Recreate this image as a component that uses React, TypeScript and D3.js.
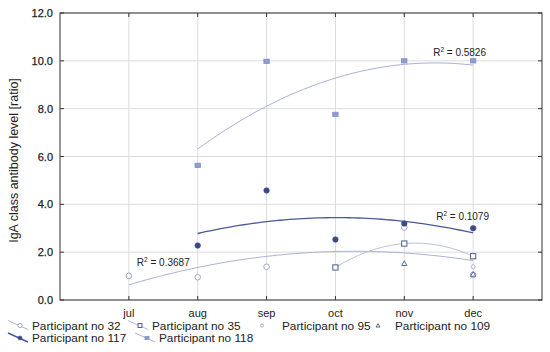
import React from "react";
import * as d3 from "d3";

const months = ["jul", "aug", "sep", "oct", "nov", "dec"];
const yTicks = [0, 2, 4, 6, 8, 10, 12];

const p32 = [1.01, 0.95, 1.39, null, 3.03, 1.05];
const p35 = [null, null, null, 1.36, 2.36, 1.83];
const p95 = [null, null, null, null, null, 1.39];
const p109 = [null, null, null, null, 1.53, 1.08];
const p117 = [null, 2.28, 4.58, 2.53, 3.2, 3.0];
const p118 = [null, 5.63, 9.98, 7.76, 10.0, 10.0];

const r2Labels = [
  { series: "32", text: "0.3687", at: 1 },
  { series: "117", text: "0.1079", at: 6 },
  { series: "118", text: "0.5826", at: 6 },
];

const W = 550, H = 352;
const L = 60, R = 542, T = 13, B = 300;
const FONT = "'Liberation Sans', Arial, sans-serif";

type Series = { name: string; label: string; values: (number | null)[]; marker: string; color: string; fill: string; trend: string | null; r: number };

const series: Series[] = [
  { name: "32", label: "Participant no 32", values: p32, marker: "circle", color: "#9ea8c8", fill: "#fff", trend: "#a9b3d3", r: 2.8 },
  { name: "35", label: "Participant no  35", values: p35, marker: "square", color: "#4d5b8c", fill: "#fff", trend: "#b7c0dd", r: 2.6 },
  { name: "95", label: "Participant no 95", values: p95, marker: "smallcircle", color: "#aab3cf", fill: "#fff", trend: null, r: 2 },
  { name: "109", label: "Participant no 109", values: p109, marker: "triangle", color: "#5a699c", fill: "#fff", trend: null, r: 2.6 },
  { name: "117", label: "Participant no 117", values: p117, marker: "dot", color: "#3a4a8a", fill: "#3a4a8a", trend: "#4a5a97", r: 2.8 },
  { name: "118", label: "Participant no 118", values: p118, marker: "fsquare", color: "#8391c8", fill: "#8f9cd0", trend: "#a7b1d9", r: 2.7 },
];

function quadFit(pts: [number, number][]) {
  let s = [0, 0, 0, 0, 0], sy = [0, 0, 0];
  for (const [x, y] of pts) {
    for (let k = 0; k < 5; k++) s[k] += Math.pow(x, k);
    for (let k = 0; k < 3; k++) sy[k] += Math.pow(x, k) * y;
  }
  const M = [
    [s[0], s[1], s[2], sy[0]],
    [s[1], s[2], s[3], sy[1]],
    [s[2], s[3], s[4], sy[2]],
  ];
  for (let i = 0; i < 3; i++) {
    let p = i;
    for (let j = i + 1; j < 3; j++) if (Math.abs(M[j][i]) > Math.abs(M[p][i])) p = j;
    [M[i], M[p]] = [M[p], M[i]];
    for (let j = 0; j < 3; j++) {
      if (j === i) continue;
      const f = M[j][i] / M[i][i];
      for (let k = i; k < 4; k++) M[j][k] -= f * M[i][k];
    }
  }
  const c = [M[0][3] / M[0][0], M[1][3] / M[1][1], M[2][3] / M[2][2]];
  return (x: number) => c[0] + c[1] * x + c[2] * x * x;
}

const x = d3.scaleLinear().domain([0, 7]).range([L, R]);
const y = d3.scaleLinear().domain([0, 12]).range([B, T]);

function Marker({ s, cx, cy }: { s: Series; cx: number; cy: number }) {
  const r = s.r;
  switch (s.marker) {
    case "circle":
    case "smallcircle":
      return <circle cx={cx} cy={cy} r={r} fill={s.fill} stroke={s.color} strokeWidth={1} />;
    case "dot":
      return <circle cx={cx} cy={cy} r={r} fill={s.fill} stroke={s.color} strokeWidth={0.5} />;
    case "square":
      return <rect x={cx - r} y={cy - r} width={2 * r} height={2 * r} fill={s.fill} stroke={s.color} strokeWidth={1} />;
    case "fsquare":
      return <rect x={cx - r} y={cy - r * 0.8} width={2 * r} height={1.6 * r} fill={s.fill} stroke={s.color} strokeWidth={0.8} />;
    case "triangle":
      return <path d={`M${cx},${cy - r}L${cx + r},${cy + r * 0.8}L${cx - r},${cy + r * 0.8}Z`} fill={s.fill} stroke={s.color} strokeWidth={1} />;
  }
  return null;
}

export default function App() {
  const line = d3.line<[number, number]>().x((d) => x(d[0])).y((d) => y(d[1]));

  const trends = series
    .filter((s) => s.trend)
    .map((s) => {
      const pts = s.values
        .map((v, i) => [i + 1, v] as [number, number | null])
        .filter((d) => d[1] !== null) as [number, number][];
      const f = quadFit(pts);
      const x0 = pts[0][0], x1 = pts[pts.length - 1][0];
      const samples: [number, number][] = d3.range(0, 61).map((k) => {
        const xx = x0 + ((x1 - x0) * k) / 60;
        return [xx, f(xx)];
      });
      return { s, d: line(samples) as string, f };
    });

  const legendRows = [
    [
      { s: series[0], sx: 8, tx: 32 },
      { s: series[1], sx: 128, tx: 152 },
      { s: series[2], sx: 262, tx: 282 },
      { s: series[3], sx: 378, tx: 395 },
    ],
    [
      { s: series[4], sx: 8, tx: 32 },
      { s: series[5], sx: 135, tx: 159 },
    ],
  ];
  const rowY = [325.5, 338];

  return (
    <svg width={W} height={H} style={{ position: "absolute", left: 0, top: 0, background: "#fff" }} fontFamily={FONT}>
      <rect width={W} height={H} fill="#fff" />
      {months.map((m, i) => (
        <line key={"vg" + m} x1={x(i + 1)} x2={x(i + 1)} y1={T} y2={B} stroke="#dcdcdc" strokeWidth={1} />
      ))}
      {yTicks.map((t) => (
        <line key={"hg" + t} x1={L} x2={R} y1={y(t)} y2={y(t)} stroke="#dcdcdc" strokeWidth={1} />
      ))}
      <rect x={L} y={T} width={R - L} height={B - T} fill="none" stroke="#333" strokeWidth={1} />
      {months.map((m, i) => (
        <g key={"tk" + m}>
          <line x1={x(i + 1)} x2={x(i + 1)} y1={T} y2={T + 4} stroke="#333" />
          <line x1={x(i + 1)} x2={x(i + 1)} y1={B} y2={B - 4} stroke="#333" />
          <text x={x(i + 1)} y={317} textAnchor="middle" fontSize={11} fill="#222">{m}</text>
        </g>
      ))}
      {yTicks.map((t) => (
        <g key={"yt" + t}>
          <line x1={R} x2={R - 4} y1={y(t)} y2={y(t)} stroke="#333" />
          <line x1={L} x2={L + 4} y1={y(t)} y2={y(t)} stroke="#333" />
          <text x={53} y={y(t) + 4} textAnchor="end" fontSize={11} fill="#222" stroke="#222" strokeWidth={0.25}>{t.toFixed(1)}</text>
        </g>
      ))}
      <text transform={`translate(18,${(T + B) / 2 + 4}) rotate(-90)`} textAnchor="middle" fontSize={12.5} fill="#222">
        IgA class antibody level [ratio]
      </text>
      {trends.map((t) => (
        <path key={"tr" + t.s.name} d={t.d} fill="none" stroke={t.s.trend as string} strokeWidth={t.s.name === "117" ? 1.3 : 1} />
      ))}
      {series.map((s) =>
        s.values.map((v, i) => (v === null ? null : <Marker key={s.name + i} s={s} cx={x(i + 1)} cy={y(v)} />))
      )}
      {r2Labels.map((lab) => {
        const t = trends.find((tt) => tt.s.name === lab.series)!;
        const lx = lab.series === "32" ? x(lab.at) + 8 : lab.series === "117" ? x(lab.at) - 37 : x(lab.at) - 40;
        const ly = lab.series === "32" ? y(t.f(lab.at)) - 19 : lab.series === "117" ? y(t.f(lab.at)) - 13 : y(t.f(lab.at)) - 9;
        return (
          <text key={"r2" + lab.series} x={lx} y={ly} fontSize={10} fill="#222">
            R<tspan fontSize={6.5} dy={-4}>2</tspan>
            <tspan dy={4}> = {lab.text}</tspan>
          </text>
        );
      })}
      {legendRows.map((row, ri) =>
        row.map(({ s, sx, tx }) => {
          const yc = rowY[ri];
          const hasLine = s.trend !== null;
          return (
            <g key={"lg" + s.name}>
              {hasLine && <line x1={sx} y1={yc - 5} x2={sx + 20} y2={yc + 4} stroke={s.trend as string} strokeWidth={s.name === "117" ? 1.5 : 1} />}
              <Marker s={{ ...s, r: s.r * 0.75 }} cx={hasLine ? sx + 12 : sx} cy={yc} />
              <text x={tx} y={yc + 4} fontSize={11.8} fill="#222">{s.label}</text>
            </g>
          );
        })
      )}
    </svg>
  );
}
